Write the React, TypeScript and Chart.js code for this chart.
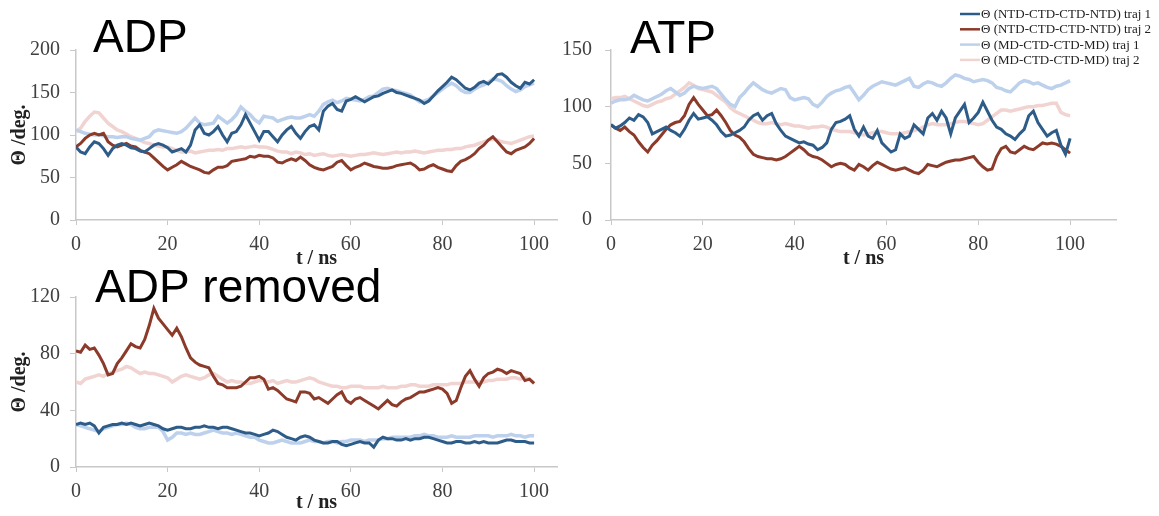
import React, { useEffect, useRef } from 'react';
import { Chart, registerables } from 'chart.js';

Chart.register(...registerables);

// ---------- data ----------
const TIME_NS = Array.from({ length: 101 }, (_, i) => i); // sampling grid, 1 ns

const SERIES_LABELS = [
  'Θ (NTD-CTD-CTD-NTD) traj 1',
  'Θ (NTD-CTD-CTD-NTD) traj 2',
  'Θ (MD-CTD-CTD-MD) traj 1',
  'Θ (MD-CTD-CTD-MD) traj 2',
];

const PANEL_TITLES = ['ADP', 'ATP', 'ADP removed'];
const X_TICKS_STEP = 20;
const Y_TICKS = { adp: [0, 200, 50], atp: [0, 150, 50], removed: [0, 120, 40] };

const ADP_NTD1 = [
  86, 80, 78, 86, 92, 90, 84, 76, 84, 88,
  90, 88, 85, 84, 81, 80, 84, 88, 90, 88,
  85, 80, 82, 84, 80, 88, 106, 112, 102, 100,
  104, 110, 100, 92, 102, 104, 112, 124, 114, 104,
  94, 104, 104, 98, 92, 100, 106, 110, 102, 96,
  104, 110, 112, 106, 128, 134, 137, 130, 128, 140,
  142, 145, 142, 139, 142, 145, 146, 149, 151, 153,
  150, 149, 147, 145, 143, 141, 137, 140, 146, 152,
  157, 162, 168, 165, 160, 155, 153, 156, 161, 163,
  160, 165, 171, 172, 168, 162, 158, 155, 162, 160,
  165,
];
const ADP_NTD2 = [
  86, 90, 96, 100, 102, 100, 102, 92, 88, 86,
  88, 90, 87, 86, 82, 80, 78, 73, 68, 63,
  59, 62, 65, 69, 66, 63, 61, 59, 56, 55,
  59, 62, 62, 64, 69, 70, 71, 72, 75, 74,
  76, 75, 75, 73, 68, 67, 70, 72, 70, 74,
  70, 65, 62, 60, 59, 61, 63, 68, 70, 64,
  59, 62, 64, 67, 65, 63, 62, 61, 61, 62,
  64, 65, 66, 67, 64, 59, 60, 63, 65, 62,
  60, 58, 57, 64, 69, 71, 74, 78, 84, 88,
  94, 98, 92, 86, 80, 78, 82, 84, 86, 90,
  96,
];
const ADP_MD1 = [
  106, 104, 102, 101, 100, 100, 99, 98, 98, 97,
  98, 98, 96, 95, 94, 96, 98, 104, 106, 105,
  104, 103, 102, 104, 108, 114, 120, 114, 112, 113,
  114, 122, 118, 114, 118, 124, 133, 128, 124, 118,
  114, 122, 121, 120, 116, 118, 120, 121, 120, 120,
  122, 124, 122, 128, 136, 139, 141, 138, 140, 143,
  142, 141, 140, 142, 145, 146, 150, 154, 155, 153,
  152, 150, 149, 147, 143, 139, 140, 142, 146, 150,
  154, 158, 161, 158, 153, 150, 150, 154, 157, 159,
  162, 166, 165, 163, 158, 154, 151, 153, 157, 159,
  161,
];
const ADP_MD2 = [
  104, 108, 116, 122, 127, 126, 120, 114, 110, 106,
  104, 101, 98, 96, 94, 91, 90, 88, 87, 86,
  86, 84, 82, 80, 80, 81, 79, 80, 81, 82,
  82, 83, 82, 84, 84, 85, 86, 85, 86, 87,
  86, 86, 85, 83, 81, 80, 80, 78, 80, 79,
  77, 78, 76, 77, 78, 76, 75, 76, 77, 76,
  75, 76, 77, 77, 78, 79, 78, 77, 78, 79,
  80, 79, 80, 80, 81, 80, 79, 80, 81, 82,
  82, 83, 83, 84, 84, 86, 87, 88, 90, 92,
  94, 95, 94, 92, 91, 90, 92, 94, 96, 98,
  99,
];

const ATP_NTD1 = [
  84, 81, 83, 86, 90, 88, 93, 91, 86, 76,
  78, 80, 82, 79, 77, 74, 80, 88, 94, 89,
  90, 91, 88, 84, 78, 74, 75, 77, 79, 82,
  88, 92, 94, 88, 92, 94, 85, 79, 74, 72,
  70, 68, 69, 67, 66, 62, 64, 68, 80, 86,
  87, 89, 92, 80, 74, 82, 74, 72, 79, 68,
  64, 60, 62, 76, 72, 74, 84, 80, 76, 90,
  94, 88, 96, 90, 76, 90, 96, 102, 86, 90,
  95, 104, 96, 88, 82, 80, 76, 74, 71, 76,
  80, 92, 96, 86, 80, 74, 77, 79, 66, 58,
  72,
];
const ATP_NTD2 = [
  84, 81, 79, 82, 78, 75, 69, 64, 60, 66,
  70, 75, 80, 84, 86, 87, 92, 102, 108, 102,
  97, 92, 93, 97, 92, 86, 79, 75, 73, 69,
  63, 58, 56, 55, 54, 54, 53, 54, 56, 59,
  62, 65, 62, 58, 56, 55, 53, 50, 47, 49,
  50, 49, 46, 44, 49, 47, 44, 48, 51, 49,
  47, 45, 44, 45, 46, 44, 42, 41, 44, 49,
  48, 47, 49, 51, 52, 53, 53, 54, 55, 56,
  51, 47, 44, 45, 56, 63, 65, 60, 59, 62,
  65, 63, 62, 65, 68, 67, 68, 67, 65, 62,
  59,
];
const ATP_MD1 = [
  103, 105, 106, 106, 107, 110, 108, 106, 105, 107,
  109, 111, 114, 116, 113, 110, 112, 116, 118, 117,
  116, 117, 118, 116, 111, 106, 102, 100, 108, 112,
  117, 121, 118, 115, 113, 112, 114, 116, 115, 108,
  106, 107, 108, 107, 102, 100, 104, 109, 112, 114,
  115, 117, 118, 112, 106, 110, 115, 118, 120, 122,
  121, 120, 119, 121, 123, 125, 118, 117, 120, 122,
  121, 119, 118, 121, 125, 128, 127, 125, 124, 122,
  123, 124, 123, 121, 117, 116, 114, 113, 117, 121,
  123, 122, 120, 121, 119, 117, 116, 118, 119, 121,
  123,
];
const ATP_MD2 = [
  107, 108, 108, 109, 107, 105, 103, 101, 100, 102,
  104, 105, 107, 108, 111, 114, 117, 121, 119, 116,
  115, 114, 113, 110, 107, 104, 99, 96, 94, 92,
  90, 88, 86, 85, 85, 86, 85, 84, 85, 84,
  83, 83, 82, 81, 82, 82, 83, 82, 80, 79,
  78, 78, 78, 77, 76, 75, 76, 77, 78, 78,
  77, 76, 76, 76, 77, 78, 79, 80, 82, 84,
  85, 84, 84, 84, 85, 86, 87, 87, 86, 85,
  84, 85, 88, 91, 94, 97, 97, 96, 97, 98,
  99, 100, 100, 101, 101, 102, 103, 103, 95, 93,
  92,
];

const REM_NTD1 = [
  30, 31, 30, 31, 29, 24, 28, 29, 30, 30,
  31, 30, 31, 30, 29, 30, 31, 30, 29, 27,
  26, 27, 28, 28, 27, 27, 28, 28, 29, 28,
  28, 27, 28, 28, 27, 26, 25, 24, 24, 23,
  22, 23, 24, 26, 25, 23, 21, 20, 19, 21,
  22, 21, 19, 18, 17, 17, 18, 18, 16, 15,
  16, 17, 18, 17, 17, 14, 19, 21, 20, 20,
  19, 19, 20, 19, 20, 20, 21, 21, 20, 19,
  18, 17, 17, 18, 18, 17, 17, 18, 17, 18,
  17, 17, 17, 18, 19, 19, 18, 18, 18, 17,
  17,
];
const REM_NTD2 = [
  82, 81, 86, 83, 84, 79, 73, 65, 66, 73,
  77, 82, 87, 85, 84, 90, 100, 112, 105, 101,
  97, 93, 98, 92, 84, 77, 74, 72, 71, 70,
  64, 59, 58, 56, 56, 56, 57, 60, 63, 63,
  64, 62, 55, 56, 54, 51, 48, 47, 46, 53,
  53, 52, 48, 49, 47, 45, 48, 51, 53, 47,
  45, 48, 49, 47, 45, 43, 41, 44, 47, 44,
  43, 46, 48, 49, 51, 53, 53, 54, 55, 56,
  55, 52, 45, 47, 56, 64, 68, 62, 57, 63,
  66, 67, 69, 68, 66, 68, 67, 66, 61, 62,
  59,
];
const REM_MD1 = [
  30, 29, 28, 27, 26, 25, 27, 28, 29, 30,
  30, 31, 30, 28, 27, 27, 28, 28, 28, 25,
  19, 21, 24, 24, 23, 24, 23, 23, 24, 25,
  26, 25, 24, 24, 23, 24, 23, 22, 21, 21,
  19, 18, 17, 17, 18, 19, 18, 17, 17, 17,
  18, 19, 18, 18, 17, 18, 18, 17, 18, 18,
  19, 19, 19, 18, 19, 19, 19, 20, 20, 21,
  21, 21, 21, 21, 22, 22, 23, 22, 22, 21,
  21, 21, 22, 21, 21, 21, 21, 22, 22, 22,
  22, 21, 22, 22, 22, 23, 22, 22, 21, 22,
  22,
];
const REM_MD2 = [
  60, 59, 62, 63, 64, 65, 64, 66, 67, 68,
  69, 71, 70, 68, 66, 67, 66, 66, 65, 64,
  63, 60, 62, 64, 65, 64, 63, 62, 63, 65,
  66, 64, 62, 60, 61, 60, 60, 59, 59, 60,
  61, 61, 60, 61, 59, 60, 61, 60, 60, 61,
  62, 63, 62, 60, 59, 58, 57, 57, 56, 56,
  57, 57, 57, 56, 56, 56, 56, 57, 56, 56,
  56, 57, 57, 58, 58, 57, 57, 57, 58, 58,
  58, 58, 59, 59, 59, 60, 60, 60, 60, 60,
  61, 61, 62, 62, 62, 63, 63, 62, 63, 62,
  59,
];

// ---------- styles ----------
const SERIES_COLORS = ['#2E5C89', '#8C3A2A', '#BDD1EC', '#F1D4D1'];
const SERIES_WIDTHS = [3, 3, 3.5, 3.5];
const AXIS_COLOR = '#c8c8c8';
const TICK_COLOR = '#404040';
const TEXT_COLOR = '#222222';
const SERIF = '"Liberation Serif", "Times New Roman", serif';
const SANS = '"Liberation Sans", Arial, sans-serif';

const panelTitlePlugin = {
  id: 'panelTitle',
  afterDraw(chart: any, _args: any, opts: any) {
    if (!opts || !opts.text) return;
    const { ctx, chartArea } = chart;
    ctx.save();
    ctx.font = `${opts.size}px ${SANS}`;
    ctx.fillStyle = '#000';
    ctx.textAlign = 'left';
    ctx.textBaseline = 'alphabetic';
    ctx.fillText(opts.text, chartArea.left + opts.dx, chartArea.top + opts.dy);
    ctx.restore();
  },
};

const seriesKeyPlugin = {
  id: 'seriesKey',
  afterDraw(chart: any, _args: any, opts: any) {
    if (!opts || !opts.show) return;
    const { ctx } = chart;
    ctx.save();
    ctx.font = `${opts.fontSize}px ${SERIF}`;
    ctx.textBaseline = 'middle';
    ctx.textAlign = 'left';
    chart.data.datasets.forEach((ds: any, i: number) => {
      const y = opts.y + i * opts.rowHeight;
      ctx.strokeStyle = ds.borderColor;
      ctx.lineWidth = 2.5;
      ctx.beginPath();
      ctx.moveTo(opts.x, y);
      ctx.lineTo(opts.x + opts.lineLength, y);
      ctx.stroke();
      ctx.fillStyle = TEXT_COLOR;
      ctx.fillText(ds.label, opts.x + opts.lineLength + 1, y + 0.5);
    });
    ctx.restore();
  },
};

type PanelSpec = {
  series: number[][];
  title: string;
  titleDx: number;
  titleDy: number;
  xMax: number;
  yRange: number[];
  padding: { left: number; top: number; right: number; bottom: number };
  yAxisWidth: number;
  xAxisHeight: number;
  yTickPad: number;
  yTitle: boolean;
  xTitlePadBottom: number;
  key: boolean;
  keyX: number;
};

function makeConfig(p: PanelSpec): any {
  return {
    type: 'line',
    data: {
      datasets: p.series.map((vals, i) => ({
        label: SERIES_LABELS[i],
        data: vals.map((v, j) => ({ x: TIME_NS[j], y: v })),
        borderColor: SERIES_COLORS[i],
        backgroundColor: SERIES_COLORS[i],
        borderWidth: SERIES_WIDTHS[i],
        pointRadius: 0,
        tension: 0,
        fill: false,
      })),
    },
    options: {
      responsive: false,
      animation: false,
      devicePixelRatio: 1,
      events: [],
      layout: { padding: p.padding },
      plugins: {
        legend: { display: false },
        tooltip: { enabled: false },
        title: { display: false },
        panelTitle: { text: p.title, size: 46, dx: p.titleDx, dy: p.titleDy },
        seriesKey: { show: p.key, x: p.keyX, y: 14, rowHeight: 15.3, lineLength: 20, fontSize: 13 },
      },
      scales: {
        x: {
          type: 'linear',
          min: 0,
          max: p.xMax,
          afterFit: (s: any) => {
            s.height = p.xAxisHeight;
          },
          ticks: {
            stepSize: X_TICKS_STEP,
            includeBounds: false,
            padding: 8,
            color: TICK_COLOR,
            maxRotation: 0,
            font: { family: SERIF, size: 20 },
          },
          grid: { drawOnChartArea: false, drawTicks: true, tickLength: 5, color: AXIS_COLOR },
          border: { color: AXIS_COLOR, width: 1.5 },
          title: {
            display: true,
            text: 't / ns',
            color: TEXT_COLOR,
            font: { family: SERIF, size: 20, weight: 'bold', lineHeight: 1 },
            padding: { top: 0, bottom: p.xTitlePadBottom },
          },
        },
        y: {
          type: 'linear',
          min: p.yRange[0],
          max: p.yRange[1],
          afterFit: (s: any) => {
            s.width = p.yAxisWidth;
          },
          ticks: {
            stepSize: p.yRange[2],
            includeBounds: false,
            padding: p.yTickPad,
            color: TICK_COLOR,
            font: { family: SERIF, size: 20 },
          },
          grid: { drawOnChartArea: false, drawTicks: true, tickLength: 6, color: AXIS_COLOR },
          border: { color: AXIS_COLOR, width: 1.5 },
          title: {
            display: p.yTitle,
            text: 'Θ /deg.',
            color: TEXT_COLOR,
            font: { family: SERIF, size: 20, weight: 'bold', lineHeight: 1 },
            padding: { top: 10, bottom: 0 },
          },
        },
      },
    },
    plugins: [panelTitlePlugin, seriesKeyPlugin],
  };
}

function Panel({ left, top, width, height, spec }: { left: number; top: number; width: number; height: number; spec: PanelSpec }) {
  const ref = useRef<HTMLCanvasElement>(null);
  useEffect(() => {
    if (!ref.current) return;
    const chart = new Chart(ref.current, makeConfig(spec));
    return () => chart.destroy();
  }, []);
  return (
    <canvas
      ref={ref}
      width={width}
      height={height}
      style={{ position: 'absolute', left, top, width, height }}
    />
  );
}

const ADP_SPEC: PanelSpec = {
  series: [ADP_NTD1, ADP_NTD2, ADP_MD1, ADP_MD2],
  title: PANEL_TITLES[0],
  titleDx: 17,
  titleDy: 2,
  xMax: 105,
  yRange: Y_TICKS.adp,
  padding: { left: 0, top: 50, right: 18, bottom: 0 },
  yAxisWidth: 76,
  xAxisHeight: 50,
  yTickPad: 10,
  yTitle: true,
  xTitlePadBottom: 1,
  key: false,
  keyX: 0,
};

const ATP_SPEC: PanelSpec = {
  series: [ATP_NTD1, ATP_NTD2, ATP_MD1, ATP_MD2],
  title: PANEL_TITLES[1],
  titleDx: 19,
  titleDy: 3,
  xMax: 110,
  yRange: Y_TICKS.atp,
  padding: { left: 0, top: 50, right: 43, bottom: 0 },
  yAxisWidth: 61,
  xAxisHeight: 50,
  yTickPad: 13,
  yTitle: false,
  xTitlePadBottom: 1,
  key: true,
  keyX: 410,
};

const REM_SPEC: PanelSpec = {
  series: [REM_NTD1, REM_NTD2, REM_MD1, REM_MD2],
  title: PANEL_TITLES[2],
  titleDx: 19,
  titleDy: 5,
  xMax: 105,
  yRange: Y_TICKS.removed,
  padding: { left: 0, top: 35, right: 18, bottom: 0 },
  yAxisWidth: 76,
  xAxisHeight: 49,
  yTickPad: 10,
  yTitle: true,
  xTitlePadBottom: 3,
  key: false,
  keyX: 0,
};

export default function App() {
  return (
    <div
      style={{
        position: 'fixed',
        left: 0,
        top: 0,
        width: 1159,
        height: 516,
        background: '#ffffff',
        overflow: 'hidden',
      }}
    >
      <Panel left={0} top={0} width={575} height={270} spec={ADP_SPEC} />
      <Panel left={550} top={0} width={609} height={270} spec={ATP_SPEC} />
      <Panel left={0} top={262} width={575} height={254} spec={REM_SPEC} />
    </div>
  );
}
